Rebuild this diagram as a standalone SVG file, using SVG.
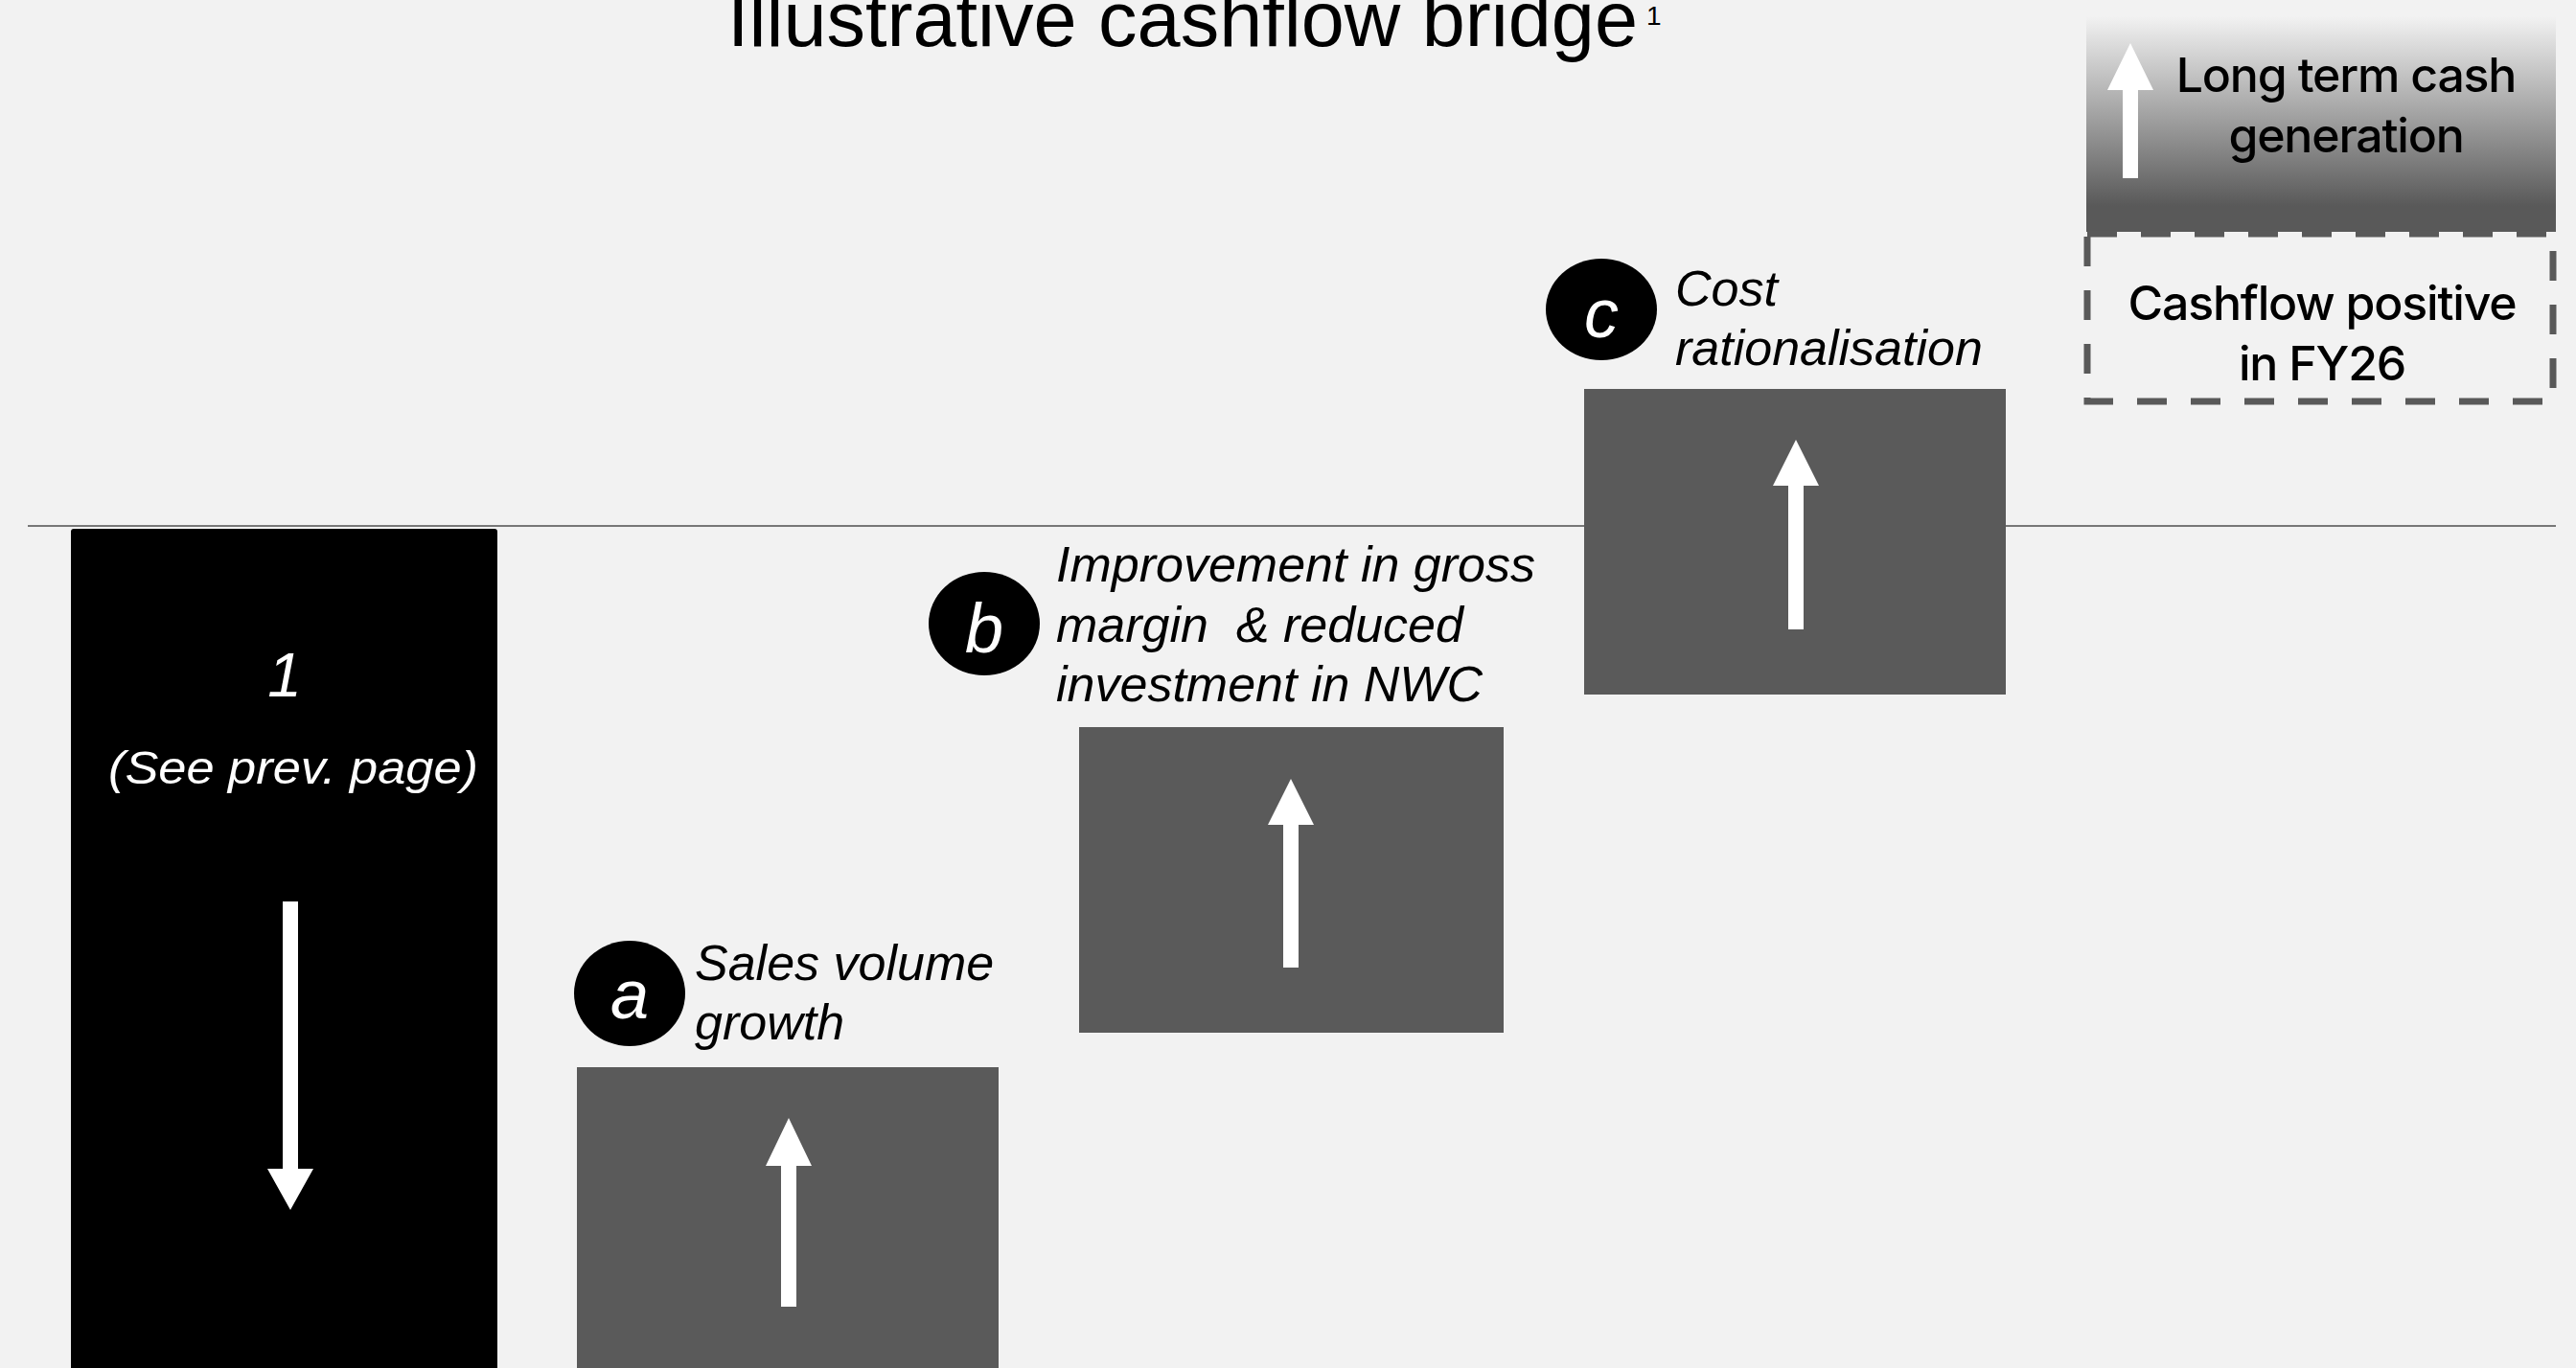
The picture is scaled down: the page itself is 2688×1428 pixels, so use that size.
<svg xmlns="http://www.w3.org/2000/svg" width="2688" height="1428" viewBox="0 0 2688 1428">
<style>
.title{font-family:"Liberation Sans",Arial,sans-serif;font-size:81px;fill:#000}
.lbl{font-family:"Liberation Sans",Arial,sans-serif;font-style:italic;font-size:52px;fill:#000}
.badge{fill:#000}
.badgetxt{font-family:"Liberation Sans",Arial,sans-serif;font-style:italic;font-size:72px;fill:#fff;text-anchor:middle}
.bar{fill:#5a5a5a}
.arrow{fill:#fff}
.legend{font-family:Inter,"Liberation Sans",sans-serif;font-size:50px;font-weight:500;fill:#000;text-anchor:middle;letter-spacing:-1.2px}
.white{font-family:"Liberation Sans",Arial,sans-serif;font-style:italic;fill:#fff;text-anchor:middle}
</style>
<defs>
<linearGradient id="grad" x1="0" y1="0" x2="0" y2="1">
<stop offset="0" stop-color="#f2f2f2"/>
<stop offset="0.88" stop-color="#595959"/>
<stop offset="1" stop-color="#595959"/>
</linearGradient>
</defs>
<rect width="2688" height="1428" fill="#f2f2f2"/>

<g id="title">
<text class="title" x="759" y="48">Illustrative cashflow bridge</text>
<text x="1718" y="26" font-family="Liberation Sans, Arial, sans-serif" font-size="28" fill="#000">1</text>
</g>

<g id="connectors">
<line x1="29" y1="549" x2="2667" y2="549" stroke="#777" stroke-width="2"/>
</g>

<g id="bar-1">
<rect x="74" y="552" width="445" height="880" rx="3" fill="#000"/>
<text class="white" x="297" y="727" font-size="64">1</text>
<text class="white" x="306" y="818" font-size="48" textLength="386" lengthAdjust="spacingAndGlyphs">(See prev. page)</text>
<polygon class="arrow" points="295,941 311,941 311,1220 327,1220 303,1263 279,1220 295,1220"/>
</g>

<g id="bar-a">
<rect class="bar" x="602" y="1114" width="440" height="320"/>
<polygon class="arrow" points="823,1167 847,1217 831,1217 831,1364 815,1364 815,1217 799,1217"/>
</g>
<g id="label-a">
<ellipse class="badge" cx="657" cy="1037" rx="58" ry="55"/>
<text class="badgetxt" x="657" y="1063">a</text>
<text class="lbl" x="725" y="1023">Sales volume</text>
<text class="lbl" x="725" y="1085">growth</text>
</g>

<g id="bar-b">
<rect class="bar" x="1126" y="759" width="443" height="319"/>
<polygon class="arrow" points="1347,813 1371,861 1355,861 1355,1010 1339,1010 1339,861 1323,861"/>
</g>
<g id="label-b">
<ellipse class="badge" cx="1027" cy="651" rx="58" ry="54"/>
<text class="badgetxt" x="1027" y="681">b</text>
<text class="lbl" x="1102" y="607">Improvement in gross</text>
<text class="lbl" x="1102" y="670" xml:space="preserve">margin  &amp; reduced</text>
<text class="lbl" x="1102" y="732">investment in NWC</text>
</g>

<g id="bar-c">
<rect class="bar" x="1653" y="406" width="440" height="319"/>
<polygon class="arrow" points="1874,459 1898,507 1882,507 1882,657 1866,657 1866,507 1850,507"/>
</g>
<g id="label-c">
<ellipse class="badge" cx="1671" cy="323" rx="58" ry="53"/>
<text class="badgetxt" x="1671" y="352">c</text>
<text class="lbl" x="1748" y="319" font-size="53">Cost</text>
<text class="lbl" x="1748" y="381" font-size="53">rationalisation</text>
</g>

<g id="legend-long-term">
<rect x="2177" y="17" width="490" height="225" fill="url(#grad)"/>
<polygon class="arrow" points="2223,45 2247,94 2231,94 2231,186 2215,186 2215,94 2199,94"/>
<text class="legend" x="2448" y="96">Long term cash</text>
<text class="legend" x="2448" y="159">generation</text>
</g>

<g id="legend-cashflow-positive">
<rect x="2178" y="244" width="486" height="175" fill="none" stroke="#595959" stroke-width="7" stroke-dasharray="31 25"/>
<text class="legend" x="2423" y="334">Cashflow positive</text>
<text class="legend" x="2423" y="397">in FY26</text>
</g>
</svg>
